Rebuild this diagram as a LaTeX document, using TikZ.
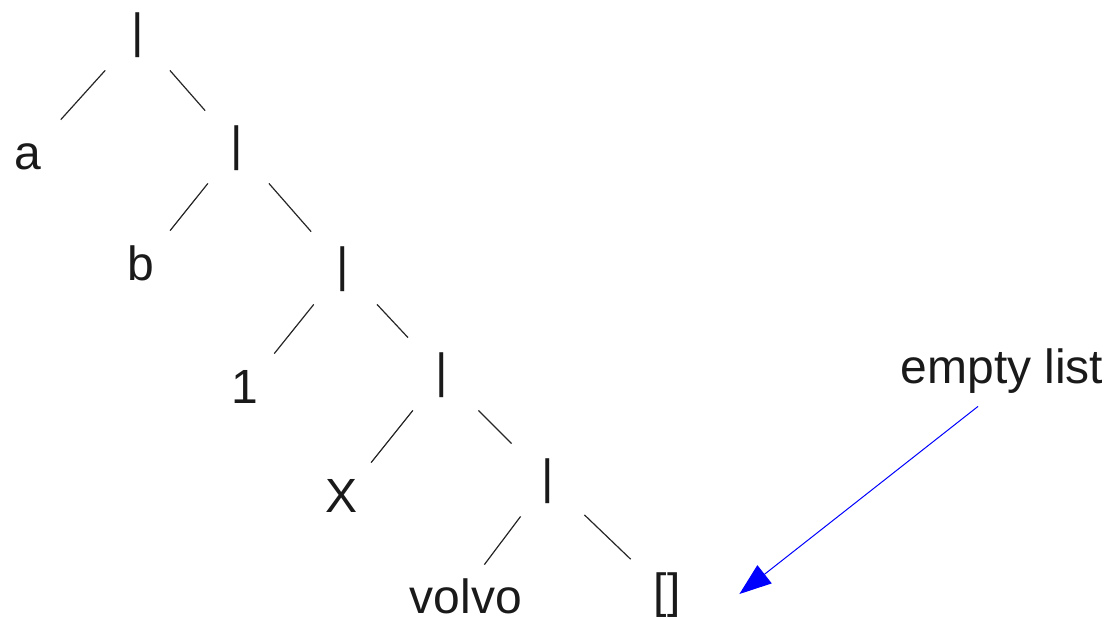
\documentclass[tikz,border=0pt]{standalone}
\usepackage{fontspec}
\setmainfont{Liberation Sans}
\usetikzlibrary{arrows.meta}
\definecolor{listblue}{RGB}{0, 0, 255}
\definecolor{listink}{RGB}{26, 26, 26}

\begin{document}
\begin{tikzpicture}[
    x=0.5pt, y=-0.5pt,
    tnode/.style={
        inner sep=0pt,
        minimum width=36pt,
        minimum height=36pt,
        text height=18pt,
        text depth=5pt,
        text=listink,
        font=\fontsize{24}{29}\selectfont
    },
    branch/.style={line width=0.6pt, draw=black!85},
    pointer/.style={-{Triangle[length=16pt, width=11.5pt]}, line width=0.5pt, draw=listblue}
]
\useasboundingbox (0,0) rectangle (1113,618);

% List cells
\node[tnode] (c1) at (138,34) {|};
\node[tnode] (c2) at (237,147) {|};
\node[tnode] (c3) at (343,268) {|};
\node[tnode] (c4) at (442,374) {|};
\node[tnode] (c5) at (548,480) {|};

% Heads and tail
\node[tnode] (a) at (28,156) {a};
\node[tnode] (b) at (141,267) {b};
\node[tnode] (one) at (245,390) {1};
\node[tnode] (x) at (342,499) {X};
\node[tnode, text height=24pt, text depth=0pt, minimum height=0pt] (volvo) at (466,589) {volvo};
\node[tnode] (nil) at (667,594) {[]};

% Branches
\draw[branch] (c1) -- (a);
\draw[branch] (c1) -- (c2);
\draw[branch] (c2) -- (b);
\draw[branch] (c2) -- (c3);
\draw[branch] (c3) -- (one);
\draw[branch] (c3) -- (c4);
\draw[branch] (c4) -- (x);
\draw[branch] (c4) -- (c5);
\draw[branch] (c5) -- (volvo);
\draw[branch] (c5) -- (nil);

% Note on the tail
\node[tnode] (elist) at (1002,370) {empty list};
\draw[pointer] ([xshift=-12pt]elist.south) -- ([xshift=18pt]nil.east);

\end{tikzpicture}
\end{document}
